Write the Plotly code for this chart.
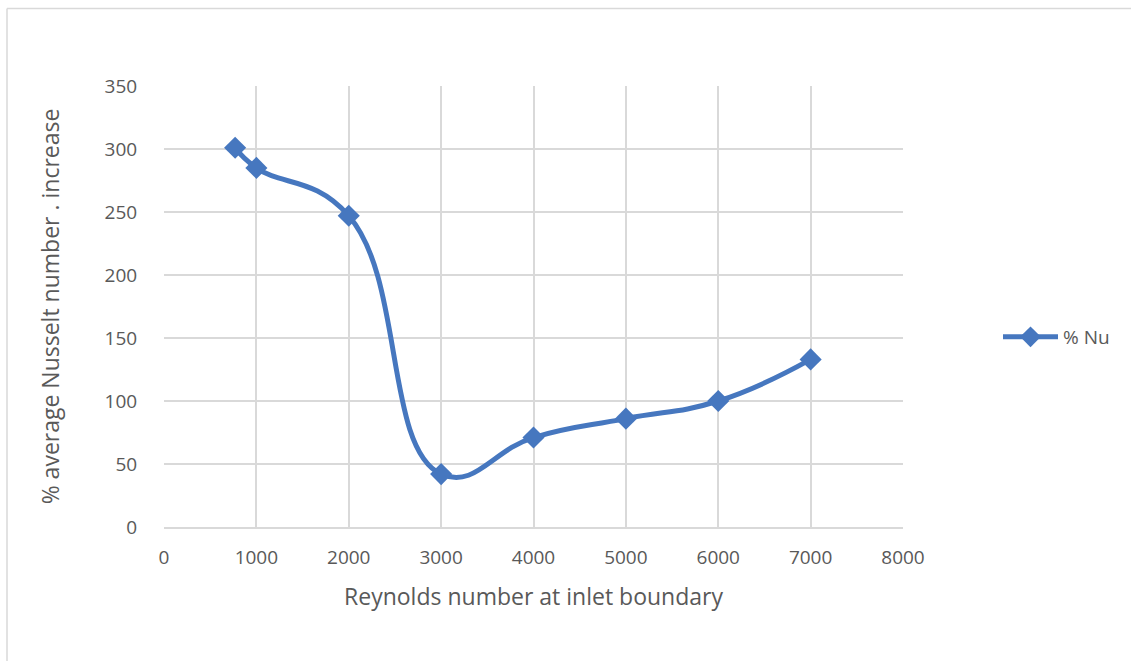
import plotly.graph_objects as go

# Reynolds number at inlet vs. % increase of average Nusselt number
reynolds = [770, 1000, 2000, 3000, 4000, 5000, 6000, 7000]
nu_increase = [301, 285, 247, 42, 71, 86, 100, 133]

x_ticks = [0, 1000, 2000, 3000, 4000, 5000, 6000, 7000, 8000]
y_ticks = [0, 50, 100, 150, 200, 250, 300, 350]

line_color = "#4677BF"
grid_color = "#D9D9D9"
text_color = "#595959"
font_family = "Open Sans, Liberation Sans, sans-serif"

W, H = 1131, 661
L, R, T, B = 164, 228, 86, 134
pw, ph = W - L - R, H - T - B

fig = go.Figure()
fig.add_trace(go.Scatter(
    x=reynolds, y=nu_increase,
    mode="lines+markers",
    name="% Nu",
    line=dict(color=line_color, width=5, shape="spline", smoothing=1.3),
    marker=dict(symbol="diamond", size=17, color=line_color),
))

fig.update_layout(
    width=W, height=H,
    margin=dict(l=L, r=R, t=T, b=B, autoexpand=False),
    paper_bgcolor="white", plot_bgcolor="white",
    font=dict(family=font_family, size=19, color=text_color),
    showlegend=True,
    legend=dict(
        x=(998 - L) / pw, y=(527 - 337) / ph,
        xanchor="left", yanchor="middle",
        font=dict(size=19, color=text_color),
        bgcolor="rgba(0,0,0,0)",
        itemwidth=55,
    ),
    xaxis=dict(
        range=[0, 8000], tickvals=x_ticks,
        ticktext=[str(v) for v in x_ticks],
        showgrid=True, gridcolor=grid_color, gridwidth=1.5,
        showline=True, linecolor=grid_color, linewidth=1.5,
        zeroline=False, ticks="outside", ticklen=12,
        tickcolor="rgba(0,0,0,0)",
        title=dict(text="Reynolds number at inlet boundary",
                   font=dict(size=23, color=text_color), standoff=20),
        tickfont=dict(size=19, color=text_color),
    ),
    yaxis=dict(
        range=[0, 350], tickvals=y_ticks,
        showgrid=True, gridcolor=grid_color, gridwidth=1.5,
        showline=False, zeroline=False, ticks="outside", ticklen=22,
        tickcolor="rgba(0,0,0,0)",
        title=dict(text="% average Nusselt number . increase",
                   font=dict(size=23, color=text_color), standoff=38),
        tickfont=dict(size=19, color=text_color),
    ),
)

# Outer chart border (top and left edges visible)
fig.add_shape(type="line", xref="paper", yref="paper",
              x0=(7 - L) / pw, x1=(W + 5 - L) / pw,
              y0=(H - B - 8.5) / ph, y1=(H - B - 8.5) / ph,
              line=dict(color="#D9D9D9", width=1.5), layer="below")
fig.add_shape(type="line", xref="paper", yref="paper",
              x0=(7 - L) / pw, x1=(7 - L) / pw,
              y0=(H - B - 8.5) / ph, y1=(H - B - H - 5) / ph,
              line=dict(color="#D9D9D9", width=1.5), layer="below")

fig.write_html("out.html")
